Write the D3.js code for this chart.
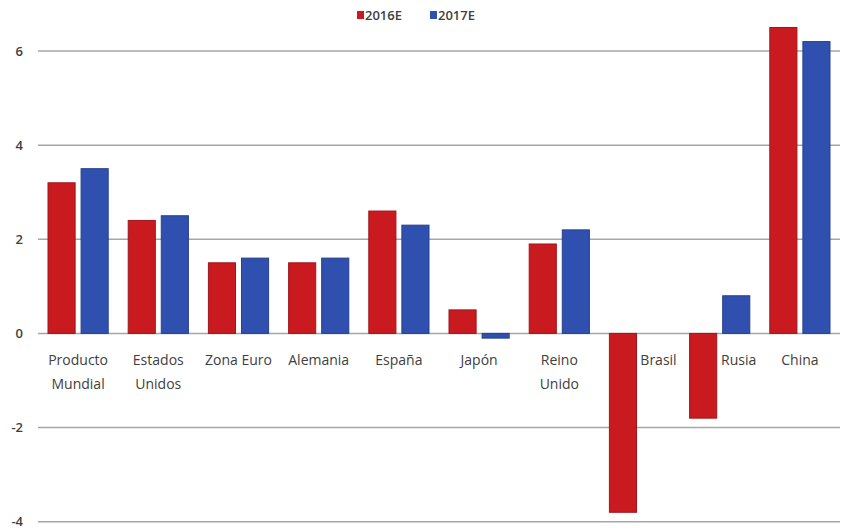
<!DOCTYPE html>
<html>
<head>
<meta charset="utf-8">
<script src="https://cdn.jsdelivr.net/npm/d3@7"></script>
<style>
  body { margin: 0; background: #fff; }
  svg text { font-family: "Open Sans", "Noto Sans", sans-serif; }
</style>
</head>
<body>
<div id="chart"></div>
<script>
// data
const categories = ["Producto Mundial", "Estados Unidos", "Zona Euro", "Alemania", "España",
                    "Japón", "Reino Unido", "Brasil", "Rusia", "China"];
const series = ["2016E", "2017E"];
const values2016 = [3.2, 2.4, 1.5, 1.5, 2.6, 0.5, 1.9, -3.8, -1.8, 6.5];
const values2017 = [3.5, 2.5, 1.6, 1.6, 2.3, -0.1, 2.2, null, 0.8, 6.2];
const yTicks = [-4, -2, 0, 2, 4, 6];
const colors = ["#C91A20", "#3050B0"];

const width = 847, height = 531;

const svg = d3.select("#chart")
    .append("svg")
    .attr("width", width)
    .attr("height", height);

const x0 = d3.scaleBand()
    .domain(categories)
    .range([38, 840])
    .padding(0);

const x1 = d3.scaleBand()
    .domain(series)
    .range([10, x0.bandwidth() - 10])
    .paddingInner(0.18);

const y = d3.scaleLinear()
    .domain([-4, 6])
    .range([521.7, 51]);

const color = d3.scaleOrdinal().domain(series).range(colors);

// gridlines
svg.selectAll(".grid")
    .data(yTicks)
    .join("line")
    .classed("grid", true)
    .attr("x1", 38)
    .attr("x2", 840)
    .attr("y1", d => y(d))
    .attr("y2", d => y(d))
    .style("stroke", "#a6a6a6")
    .style("stroke-width", "1.5px");

// y tick labels
svg.selectAll(".yLabel")
    .data(yTicks)
    .join("text")
    .classed("yLabel", true)
    .attr("x", 23)
    .attr("y", d => y(d))
    .attr("dy", "0.35em")
    .attr("text-anchor", "end")
    .attr("font-size", "13px")
    .attr("font-weight", "600")
    .attr("fill", "#404040")
    .text(d => d);

// bars
const rows = categories.map((c, i) => ({
    name: c,
    vals: [
        { key: series[0], value: values2016[i] },
        { key: series[1], value: values2017[i] }
    ].filter(d => d.value !== null)
}));

svg.selectAll(".group")
    .data(rows)
    .join("g")
    .classed("group", true)
    .attr("transform", d => `translate(${x0(d.name)},0)`)
    .selectAll("rect")
    .data(d => d.vals)
    .join("rect")
    .attr("x", d => x1(d.key))
    .attr("y", d => y(Math.max(0, d.value)))
    .attr("width", x1.bandwidth())
    .attr("height", d => Math.abs(y(d.value) - y(0)))
    .style("fill", d => color(d.key))
    .style("stroke", d => d3.color(color(d.key)).darker(0.6))
    .style("stroke-width", "1px");

// category labels (moved right when the first bar hangs below zero)
const labels = svg.selectAll(".catLabel")
    .data(categories)
    .join("text")
    .classed("catLabel", true)
    .attr("x", (d, i) => x0(d) + x0.bandwidth() / 2 + (values2016[i] < 0 ? 19 : 0))
    .attr("y", 365)
    .attr("text-anchor", "middle")
    .attr("font-size", "14px")
    .attr("fill", "#404040");

labels.each(function(d) {
    const words = d === "Zona Euro" ? [d] : d.split(" ");
    d3.select(this).selectAll("tspan")
        .data(words)
        .join("tspan")
        .attr("x", d3.select(this).attr("x"))
        .attr("dy", (w, i) => i === 0 ? 0 : 24)
        .text(w => w);
});

// legend
const legendX = [357, 430];
const legend = svg.selectAll(".legend")
    .data(series)
    .join("g")
    .classed("legend", true)
    .attr("transform", (d, i) => `translate(${legendX[i]},11)`);

legend.append("rect")
    .attr("width", 7)
    .attr("height", 8)
    .style("fill", d => color(d));

legend.append("text")
    .attr("x", 8)
    .attr("y", 4)
    .attr("dy", "0.35em")
    .attr("font-size", "13px")
    .attr("font-weight", "600")
    .attr("fill", "#404040")
    .text(d => d);
</script>
</body>
</html>
